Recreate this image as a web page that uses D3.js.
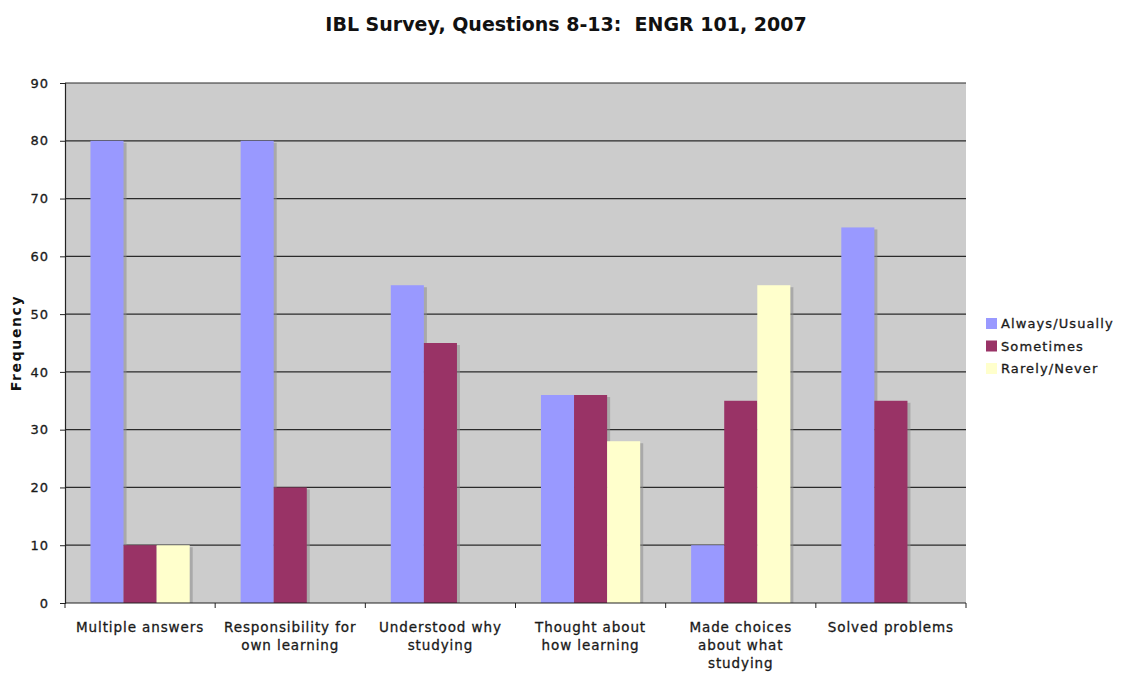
<!DOCTYPE html>
<html>
<head>
<meta charset="utf-8">
<script src="https://cdn.jsdelivr.net/npm/d3@7.9.0/dist/d3.min.js"></script>
<style>
  body { margin: 0; background: #fff; }
  svg { font-family: "DejaVu Sans", Verdana, sans-serif; }
  .lbl { fill: #1a1a1a; stroke: #1a1a1a; stroke-width: 0.3px; }
</style>
</head>
<body>
<svg width="1123" height="675"></svg>
<script>
const categories = ['Multiple answers', 'Responsibility for own learning', 'Understood why studying',
  'Thought about how learning', 'Made choices about what studying', 'Solved problems'];
const seriesNames = ['Always/Usually', 'Sometimes', 'Rarely/Never'];
const always = [80, 80, 55, 36, 10, 65];
const sometimes = [10, 20, 45, 36, 35, 35];
const rarely = [10, 0, 0, 28, 55, 0];
const yTicks = [0, 10, 20, 30, 40, 50, 60, 70, 80, 90];
const colors = ['#9999ff', '#993366', '#ffffcc'];

const series = [always, sometimes, rarely];
const svg = d3.select('svg');
const plotLeft = 65, plotRight = 966, plotTop = 83, plotBottom = 603;

let x = d3.scaleBand().domain(categories).range([plotLeft, plotRight]).paddingInner(0).paddingOuter(0);
let y = d3.scaleLinear().domain([0, 90]).range([plotBottom, plotTop]);
// inner band for the 3 bars, about 26px gap each side
let xs = d3.scaleBand().domain(seriesNames).range([0, x.bandwidth()]).paddingOuter(0.77).paddingInner(0);

// plot background
svg.append('rect')
  .attr('x', plotLeft).attr('y', plotTop)
  .attr('width', plotRight - plotLeft).attr('height', plotBottom - plotTop)
  .attr('fill', '#cccccc');

// gridlines
svg.append('g').selectAll('line')
  .data(yTicks.filter(d => d > 0))
  .join('line')
  .attr('x1', plotLeft).attr('x2', plotRight)
  .attr('y1', d => y(d)).attr('y2', d => y(d))
  .attr('stroke', '#2a2a2a').attr('stroke-width', 1.2);

// bars with a soft shadow
series.forEach((vals, si) => {
  let g = svg.append('g');
  g.selectAll('rect.sh')
    .data(vals)
    .join('rect')
    .attr('class', 'sh')
    .attr('x', (d, i) => x(categories[i]) + xs(seriesNames[si]) + 3)
    .attr('y', d => y(d) + 2)
    .attr('width', xs.bandwidth())
    .attr('height', d => Math.max(0, plotBottom - y(d) - 2))
    .attr('fill', '#8c8c8c')
    .attr('opacity', d => d > 0 ? 0.55 : 0);
  g.selectAll('rect.bar')
    .data(vals)
    .join('rect')
    .attr('class', 'bar')
    .attr('x', (d, i) => x(categories[i]) + xs(seriesNames[si]))
    .attr('y', d => y(d))
    .attr('width', xs.bandwidth())
    .attr('height', d => plotBottom - y(d))
    .attr('fill', colors[si]);
});

// y axis
let yAxis = d3.axisLeft(y).tickValues(yTicks).tickSize(5).tickPadding(11);
let gy = svg.append('g').attr('transform', `translate(${plotLeft},0)`).call(yAxis);
gy.select('.domain').attr('stroke', '#222').attr('stroke-width', 1.2);
gy.selectAll('.tick line').attr('stroke', '#222');
gy.selectAll('.tick text')
  .attr('class', 'lbl')
  .attr('font-size', 13)
  .attr('letter-spacing', 1)
  .attr('font-family', '"DejaVu Sans", sans-serif');

// x axis (ticks at category boundaries)
svg.append('line')
  .attr('x1', plotLeft).attr('x2', plotRight).attr('y1', plotBottom).attr('y2', plotBottom)
  .attr('stroke', '#222').attr('stroke-width', 1.2);
let bounds = categories.map(c => x(c)).concat([plotRight]);
svg.append('g').selectAll('line')
  .data(bounds)
  .join('line')
  .attr('x1', d => d).attr('x2', d => d)
  .attr('y1', plotBottom).attr('y2', plotBottom + 5)
  .attr('stroke', '#222');

// category labels, wrapped
const wrapped = [['Multiple answers'], ['Responsibility for', 'own learning'], ['Understood why', 'studying'],
  ['Thought about', 'how learning'], ['Made choices', 'about what', 'studying'], ['Solved problems']];
categories.forEach((c, i) => {
  let t = svg.append('text')
    .attr('class', 'lbl')
    .attr('x', x(c) + x.bandwidth() / 2)
    .attr('y', 632)
    .attr('text-anchor', 'middle')
    .attr('font-size', 13.5)
    .attr('letter-spacing', 0.9);
  wrapped[i].forEach((line, j) => {
    t.append('tspan').attr('x', x(c) + x.bandwidth() / 2).attr('dy', j === 0 ? 0 : 18).text(line);
  });
});

// title
svg.append('text')
  .attr('x', 566).attr('y', 31)
  .attr('text-anchor', 'middle')
  .attr('font-size', 19).attr('font-weight', 'bold')
  .attr('fill', '#111')
  .style('white-space', 'pre')
  .text('IBL Survey, Questions 8-13:  ENGR 101, 2007');

// y label
svg.append('text')
  .attr('transform', 'translate(21,343) rotate(-90)')
  .attr('text-anchor', 'middle')
  .attr('font-size', 14).attr('font-weight', 'bold')
  .attr('letter-spacing', 1.6)
  .attr('fill', '#111')
  .text('Frequency');

// legend
let legend = svg.append('g').attr('transform', 'translate(986,318)');
seriesNames.forEach((name, i) => {
  legend.append('rect')
    .attr('x', 0).attr('y', i * 22.5)
    .attr('width', 11).attr('height', 11)
    .attr('fill', colors[i]);
  legend.append('text')
    .attr('class', 'lbl')
    .attr('x', 15).attr('y', i * 22.5 + 10)
    .attr('font-size', 13)
    .attr('letter-spacing', 1.1)
    .text(name);
});
</script>
</body>
</html>
